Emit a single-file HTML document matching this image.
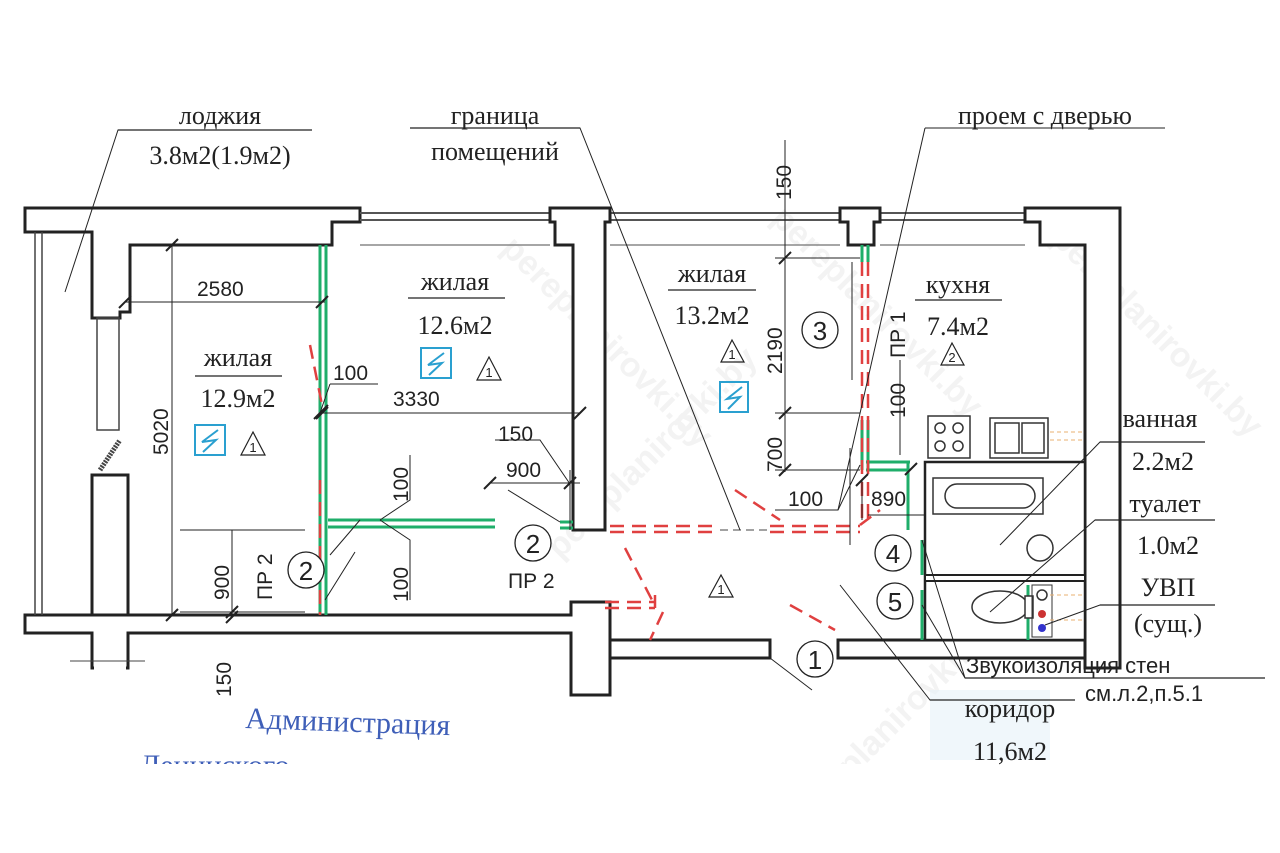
<!DOCTYPE html>
<html><head><meta charset="utf-8"><style>
html,body{margin:0;padding:0;background:#fff;overflow:hidden;width:1280px;height:853px;}
svg{display:block;}
.s{font-family:"Liberation Serif",serif;fill:#222;}
.n{font-family:"Liberation Sans",sans-serif;fill:#222;}
</style></head><body>
<svg width="1280" height="853" viewBox="0 0 1280 853" xmlns="http://www.w3.org/2000/svg">
<rect width="1280" height="853" fill="#fff"/>
<!-- watermarks -->
<g font-family="Liberation Sans,sans-serif" font-size="34" font-weight="bold" fill="#f3f3f3">
<text transform="translate(500,250) rotate(45)">pereplanirovki.by</text>
<text transform="translate(770,220) rotate(45)">pereplanirovki.by</text>
<text transform="translate(1050,240) rotate(45)">pereplanirovki.by</text>
<text transform="translate(500,790) rotate(45)">pereplanirovki.by</text>
<text transform="translate(1050,790) rotate(45)">pereplanirovki.by</text>
<text transform="translate(560,560) rotate(-45)">pereplanirovki.by</text>
<text transform="translate(800,830) rotate(-45)">pereplanirovki.by</text>
</g>
<!-- stamp -->
<rect x="930" y="690" width="120" height="70" fill="#e6f2f8" opacity="0.6"/>
<text x="245" y="728" font-family="Liberation Serif,serif" font-size="30" fill="#3f5fb8" transform="rotate(2,245,728)">Администрация</text>
<text x="140" y="775" font-family="Liberation Serif,serif" font-size="30" fill="#3f5fb8">Ленинского</text>
<rect x="0" y="764" width="1280" height="89" fill="#fff"/>

<g fill="#fff" stroke="#222" stroke-width="3" stroke-linejoin="miter">
<path d="M25,208 H360 V222 H332 V245 H130 V312 H120 V318 H92 V232 H25 Z"/>
<path d="M360,213 H550 M360,220 H550 M610,213 H840 M610,220 H840 M880,213 H1025 M880,220 H1025" fill="none" stroke-width="2" stroke="#555"/>
<path d="M550,208 H610 V222 H605 V530 H573 V245 H555 V222 H550 Z"/>
<path d="M840,208 H880 V222 H874 V245 H848 V222 H840 Z"/>
<path d="M1025,208 H1120 V668 H1085 V245 H1040 V222 H1025 Z"/>
<path d="M92,475 H128 V615 H92 Z"/>
<path d="M25,615 H571 V602 H610 V695 H571 V633 H128 V668 H92 V633 H25 Z"/>
<path d="M610,640 H770 V658 H610 Z"/>
<path d="M838,640 H1085 V658 H838 Z"/>
<path d="M925,462 H1085 V640 H925 Z" stroke-width="2.5"/>
<path d="M925,575 H1085 V581 H925 Z" stroke-width="2"/>
</g>
<line x1="94" y1="668" x2="126" y2="668" stroke="#fff" stroke-width="4"/>
<line x1="70" y1="661" x2="145" y2="661" stroke="#444" stroke-width="1"/>
<path d="M360,245 H550 M610,245 H840 M880,245 H1025" stroke="#888" stroke-width="1.5"/>
<path d="M35,232 V615 M42,232 V615" stroke="#444" stroke-width="1.5"/>
<rect x="97" y="318" width="22" height="112" fill="none" stroke="#444" stroke-width="1.5"/>
<path d="M100,470 L120,440" stroke="#444" stroke-width="5" stroke-dasharray="2 1"/>

<g stroke="#1fae6a" stroke-width="3" fill="none">
<path d="M320,245 V615 M326,245 V615"/>
<path d="M328,520 H495 M328,527 H495"/>
<path d="M560,522 H573 M560,528 H573"/>
<path d="M862,245 V262 M868,245 V262 M862,420 V470 M868,420 V470"/>
<path d="M866,462 H910 M866,470 H910 M908,462 V530"/>
<path d="M922,540 V575 M922,590 V640 M1028,585 V640"/>
</g>
<g stroke="#e04040" stroke-width="2.5" fill="none" stroke-dasharray="14 8">
<path d="M862,262 V520 M868,262 V520"/>
<path d="M320,480 V615"/>
<path d="M310,345 L322,405"/>
<path d="M610,526 H720 M610,532 H720"/>
<path d="M770,526 H860 M770,532 H860"/>
<path d="M605,602 H655 M605,608 H655 M655,595 V608"/>
<path d="M625,548 L652,600"/>
<path d="M663,612 L650,640"/>
<path d="M735,490 L780,520"/>
<path d="M790,605 L835,630"/>
<path d="M860,525 L880,510"/>
</g>
<path d="M720,530 H770" stroke="#444" stroke-width="1" stroke-dasharray="8 5"/>

<g fill="#fff" stroke="#333" stroke-width="1.5">
<rect x="928" y="416" width="42" height="42"/>
<circle cx="940" cy="428" r="5"/><circle cx="958" cy="428" r="5"/><circle cx="940" cy="446" r="5"/><circle cx="958" cy="446" r="5"/>
<rect x="990" y="418" width="58" height="40"/>
<rect x="995" y="423" width="24" height="30"/><rect x="1022" y="423" width="22" height="30"/>
<rect x="933" y="478" width="110" height="36"/>
<rect x="945" y="484" width="90" height="24" rx="12"/>
<circle cx="1040" cy="548" r="13"/>
<ellipse cx="1000" cy="607" rx="28" ry="16"/>
<rect x="1025" y="596" width="8" height="22"/>
</g>
<rect x="1032" y="585" width="20" height="52" fill="none" stroke="#333" stroke-width="1"/>
<circle cx="1042" cy="595" r="5" fill="none" stroke="#333" stroke-width="1.5"/>
<circle cx="1042" cy="614" r="4" fill="#c33"/><circle cx="1042" cy="628" r="4" fill="#33c"/>
<path d="M1050,432 H1085 M1050,440 H1085 M1050,595 H1085 M1050,620 H1085" stroke="#e8b070" stroke-width="1" stroke-dasharray="4 3"/>

<g stroke="#222" stroke-width="1" fill="none">
<path d="M125,302 H325 M172,245 V615 M322,413 H580 M232,530 V615 M180,530 H305 M180,612 H305 M490,483 H580 M570,470 V530 M785,140 V472 M775,258 H860 M775,413 H860 M775,470 H860 M900,360 V455 M862,480 V520 M868,515 H925"/>
<path d="M119,308 l12,-12 M316,308 l12,-12 M166,251 l12,-12 M166,621 l12,-12 M316,419 l12,-12 M574,419 l12,-12 M226,623 l12,-12 M226,618 l12,-12 M484,489 l12,-12 M564,489 l12,-12 M779,264 l12,-12 M779,419 l12,-12 M779,476 l12,-12 M856,486 l12,-12 M905,475 l12,-12 M314,419 l14,-14" stroke-width="2"/>
<path d="M330,384 H378 M320,413 L330,384" />
<path d="M380,520 L410,540 V600 M380,520 L410,500 V455"/>
<path d="M495,440 H540 L570,484"/>
<path d="M508,490 L560,522"/>
<path d="M330,555 L360,520 M325,600 L355,552"/>
<path d="M775,510 H838 L860,465"/>
<path d="M850,545 V448 M852,380 V262"/>
<path d="M770,658 L812,690"/>
</g>
<g stroke="#222" stroke-width="1" fill="none">
<path d="M65,292 L118,130 H312"/>
<path d="M410,128 H580 L740,530"/>
<path d="M925,128 H1165 M925,128 L838,510"/>
<path d="M840,585 L930,700 H1075"/>
<path d="M1000,545 L1100,442 H1205"/>
<path d="M990,612 L1095,520 H1215"/>
<path d="M1045,625 L1100,605 H1215"/>
<path d="M922,540 L965,678 M922,605 L965,678 H1265"/>
</g>
<g fill="#fff" stroke="#222" stroke-width="1.3">
<circle cx="306" cy="570" r="18"/>
<circle cx="533" cy="543" r="18"/>
<circle cx="820" cy="330" r="18"/>
<circle cx="893" cy="553" r="18"/>
<circle cx="895" cy="601" r="18"/>
<circle cx="815" cy="659" r="18"/>
</g>
<g class="n" font-size="26" text-anchor="middle">
<text x="306" y="580">2</text><text x="533" y="553">2</text><text x="820" y="340">3</text>
<text x="893" y="563">4</text><text x="895" y="611">5</text><text x="815" y="669">1</text>
</g>
<g fill="none" stroke="#222" stroke-width="1.2">
<path d="M241,455 L253,432 L265,455 Z M477,380 L489,357 L501,380 Z M721,362 L732,340 L744,362 Z M941,365 L952,343 L964,365 Z M709,597 L721,575 L733,597 Z"/>
</g>
<g class="n" font-size="13" text-anchor="middle">
<text x="253" y="452">1</text><text x="489" y="377">1</text><text x="732" y="359">1</text><text x="952" y="362">2</text><text x="721" y="594">1</text>
</g>
<g fill="none" stroke="#2aa0d0" stroke-width="2">
<rect x="195" y="425" width="30" height="30"/><path d="M218,430 L202,442 L216,440 L203,452"/>
<rect x="421" y="348" width="30" height="30"/><path d="M444,353 L428,365 L442,363 L429,375"/>
<rect x="720" y="382" width="28" height="30"/><path d="M742,387 L727,399 L740,397 L728,409"/>
</g>
<g class="s" font-size="26" text-anchor="middle">
<text x="220" y="124">лоджия</text>
<text x="220" y="164">3.8м2(1.9м2)</text>
<text x="495" y="124">граница</text>
<text x="495" y="160">помещений</text>
<text x="1045" y="124">проем с дверью</text>
<text x="455" y="290">жилая</text>
<text x="455" y="334">12.6м2</text>
<text x="238" y="366">жилая</text>
<text x="238" y="407">12.9м2</text>
<text x="712" y="282">жилая</text>
<text x="712" y="324">13.2м2</text>
<text x="958" y="293">кухня</text>
<text x="958" y="335">7.4м2</text>
<text x="1160" y="427">ванная</text>
<text x="1163" y="470">2.2м2</text>
<text x="1165" y="512">туалет</text>
<text x="1168" y="554">1.0м2</text>
<text x="1168" y="596">УВП</text>
<text x="1168" y="632">(сущ.)</text>
<text x="1010" y="717">коридор</text>
<text x="1010" y="760">11,6м2</text>
</g>
<g stroke="#222" stroke-width="1.2">
<path d="M118,130 H312 M410,128 H580 M408,298 H505 M195,376 H282 M668,290 H756 M915,300 H1002 M1100,442 H1205 M1095,520 H1215 M1100,605 H1215 M930,700 H1075 M965,678 H1265"/>
</g>
<g font-family="Liberation Sans,sans-serif" font-size="22" fill="#222">
<text x="966" y="673">Звукоизоляция стен</text>
<text x="1085" y="701">см.л.2,п.5.1</text>
</g>
<g class="n" font-size="21">
<text x="197" y="296">2580</text>
<text x="333" y="380">100</text>
<text x="393" y="406">3330</text>
<text x="498" y="441">150</text>
<text x="506" y="477">900</text>
<text x="788" y="506">100</text>
<text x="871" y="506">890</text>
<text x="508" y="588">ПР 2</text>
</g>
<g class="n" font-size="21">
<text transform="translate(168,455) rotate(-90)">5020</text>
<text transform="translate(229,600) rotate(-90)">900</text>
<text transform="translate(272,600) rotate(-90)">ПР 2</text>
<text transform="translate(408,502) rotate(-90)">100</text>
<text transform="translate(408,602) rotate(-90)">100</text>
<text transform="translate(231,697) rotate(-90)">150</text>
<text transform="translate(791,200) rotate(-90)">150</text>
<text transform="translate(782,374) rotate(-90)">2190</text>
<text transform="translate(782,472) rotate(-90)">700</text>
<text transform="translate(905,418) rotate(-90)">100</text>
<text transform="translate(905,358) rotate(-90)">ПР 1</text>
</g>
</svg>
</body></html>
